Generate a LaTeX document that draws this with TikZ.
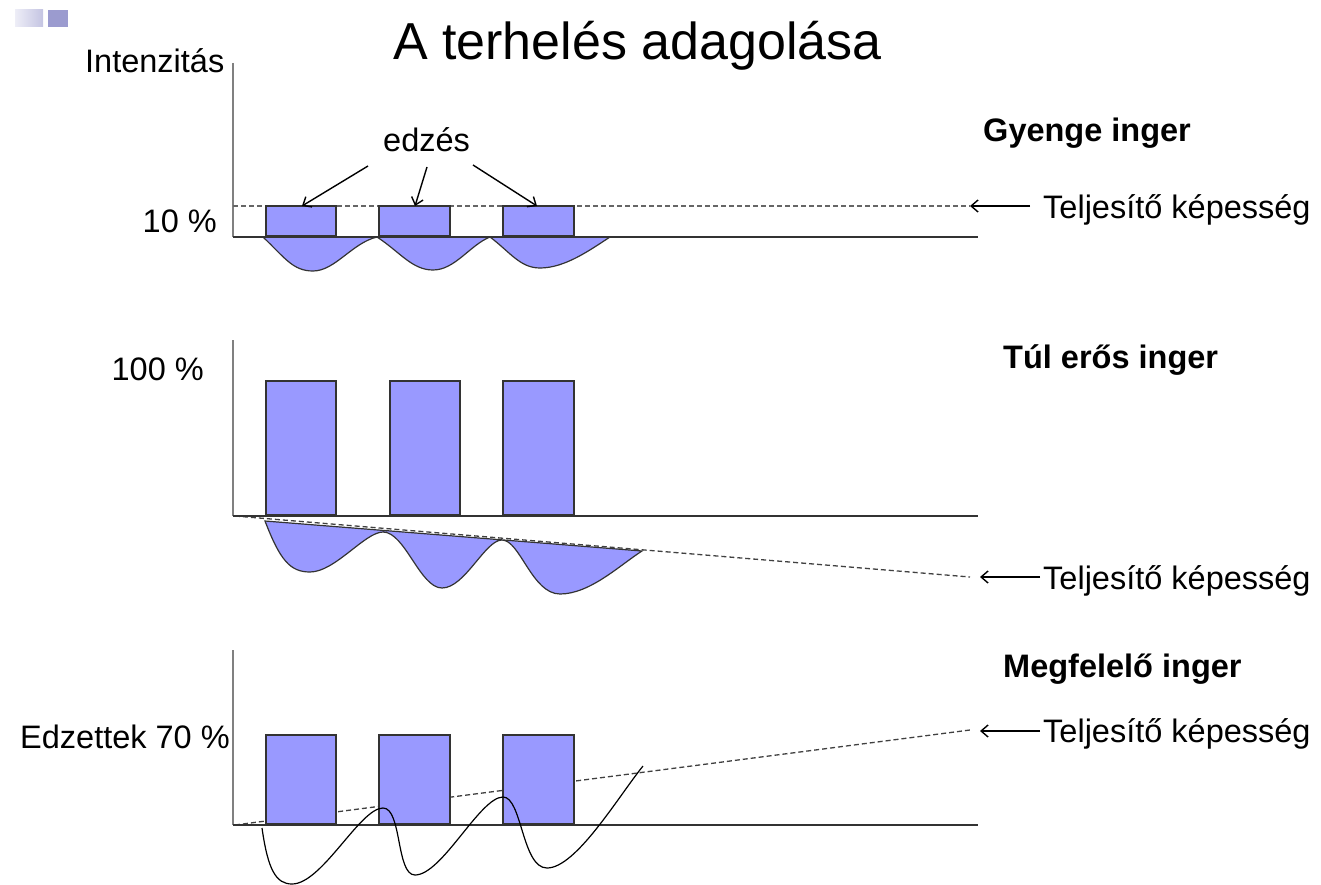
\documentclass[tikz,border=0pt]{standalone}
\usepackage{fontspec}
\setmainfont{Liberation Sans}
\usetikzlibrary{arrows.meta}
\definecolor{barblue}{HTML}{9999FF}
\definecolor{edge}{HTML}{333333}
\definecolor{axisgray}{HTML}{808080}
\definecolor{deco}{HTML}{9B9BCF}
\definecolor{decolight}{HTML}{EEEEF7}
\definecolor{decomid}{HTML}{C4C4E2}
\tikzset{
  lbl/.style={anchor=base west, inner sep=0pt, font=\fontsize{32.5}{36}\selectfont},
  rlbl/.style={lbl, anchor=base east},
  head/.style={lbl, font=\fontsize{32.5}{36}\selectfont\bfseries},
  yaxis/.style={draw=axisgray, line width=1.8pt},
  base/.style={draw=edge, line width=1.7pt},
  bar/.style={fill=barblue, draw=edge, line width=1.4pt},
  wave/.style={fill=barblue, draw=edge, line width=1.2pt},
  level/.style={draw=black!75, line width=1.3pt, dash pattern=on 5pt off 3pt},
  pointer/.style={draw=black, line width=1.4pt, -{Straight Barb[length=7pt, width=12pt]}},
  curve/.style={draw=black, line width=1.2pt},
}
\begin{document}
\begin{tikzpicture}[x=1pt, y=-1pt]
\useasboundingbox (0,0) rectangle (1321,885);

% slide corner ornament
\shade[left color=decolight, right color=decomid] (15,10) rectangle (43,27);
\fill[deco] (48,10) rectangle (68,27);

% title
\node[lbl, font=\fontsize{52}{58}\selectfont] (title) at (393,60) {A terhelés adagolása};

% ---------- panel 1: weak stimulus ----------
\node[lbl] (yname) at (85,73) {Intenzitás};
\node[rlbl] (p10) at (217,233) {10 \%};
\node[head] (h1) at (983,142) {Gyenge inger};
\node[lbl] (cap1) at (1043,219) {Teljesítő képesség};

\draw[yaxis] (233,63) -- (233,237);
\draw[level, draw=black!60] (233,206) -- (970,206);
% recovery dips
\draw[wave] (263,237) .. controls (285,258) and (293,271) .. (313,271)
  .. controls (335,271) and (352,243) .. (377,237) -- cycle;
\draw[wave] (377,237) .. controls (400,252) and (412,270) .. (433,270)
  .. controls (455,270) and (470,245) .. (490,237) -- cycle;
\draw[wave] (490,237) .. controls (510,252) and (520,268) .. (540,268)
  .. controls (565,268) and (590,250) .. (610,237) -- cycle;
\draw[base] (233,237) -- (978,237);
\draw[bar] (266,206) rectangle (336,236);
\draw[bar] (379,206) rectangle (450,236);
\draw[bar] (503,206) rectangle (574,236);

\node[lbl] (edzes) at (383,152) {edzés};
\coordinate (e1s) at (368,166);
\coordinate (e2s) at (427,167);
\coordinate (e3s) at (473,165);
\coordinate (e1) at (302,206);
\coordinate (e2) at (415,206);
\coordinate (e3) at (537,206);
\draw[pointer] (e1s) -- (e1);
\draw[pointer] (e2s) -- (e2);
\draw[pointer] (e3s) -- (e3);

\coordinate (a1s) at (1030,206);
\coordinate (a1e) at (970,206);
\draw[pointer] (a1s) -- (a1e);

% ---------- panel 2: too strong stimulus ----------
\node[rlbl] (p100) at (204,380) {100 \%};
\node[head] (h2) at (1003,368) {Túl erős inger};
\node[lbl] (cap2) at (1043,589) {Teljesítő képesség};

\draw[yaxis] (233,340) -- (233,516);
\draw[wave] (265,521) .. controls (280,560) and (290,572) .. (310,572)
  .. controls (335,572) and (365,532) .. (383,532)
  .. controls (405,532) and (420,588) .. (442,588)
  .. controls (465,588) and (485,540) .. (502,540)
  .. controls (520,540) and (532,594) .. (560,594)
  .. controls (590,594) and (620,565) .. (642,551) -- cycle;
\coordinate (d2s) at (235,516);
\coordinate (d2e) at (970,577);
\draw[level] (d2s) -- (d2e);
\draw[base] (233,516) -- (978,516);
\draw[bar] (266,381) rectangle (336,515);
\draw[bar] (390,381) rectangle (460,515);
\draw[bar] (503,381) rectangle (574,515);

\coordinate (a2s) at (1040,577);
\coordinate (a2e) at (980,577);
\draw[pointer] (a2s) -- (a2e);

% ---------- panel 3: adequate stimulus ----------
\node[lbl] (p70) at (20,748) {Edzettek 70 \%};
\node[head] (h3) at (1003,677) {Megfelelő inger};
\node[lbl] (cap3) at (1043,742) {Teljesítő képesség};

\draw[yaxis] (233,650) -- (233,825);
\coordinate (d3s) at (235,825);
\coordinate (d3e) at (970,730);
\draw[level] (d3s) -- (d3e);
\draw[bar] (266,735) rectangle (336,824);
\draw[bar] (379,735) rectangle (450,824);
\draw[bar] (503,735) rectangle (574,824);
\draw[base] (233,825) -- (978,825);
\draw[curve] (262,828) .. controls (268,870) and (276,884) .. (292,884)
  .. controls (322,884) and (360,808) .. (383,808)
  .. controls (402,808) and (396,875) .. (415,875)
  .. controls (442,875) and (480,797) .. (503,797)
  .. controls (522,797) and (522,868) .. (547,868)
  .. controls (576,868) and (618,797) .. (643,766);

\coordinate (a3s) at (1040,731);
\coordinate (a3e) at (980,731);
\draw[pointer] (a3s) -- (a3e);
\end{tikzpicture}
\end{document}
